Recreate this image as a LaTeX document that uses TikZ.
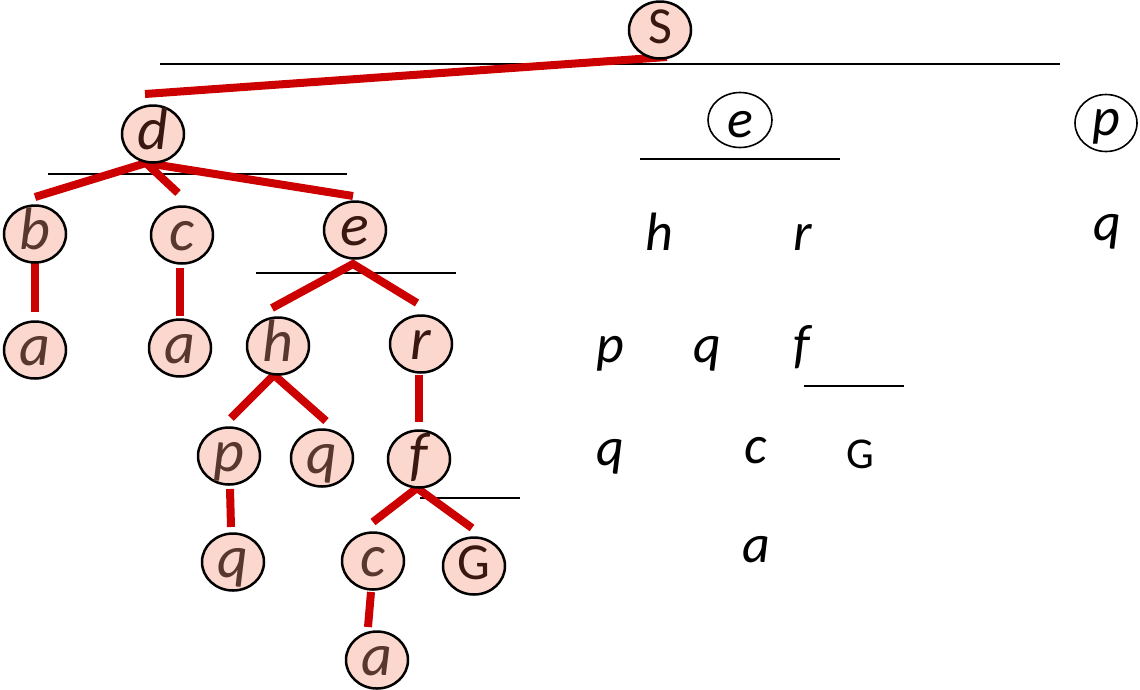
\documentclass[tikz,border=0pt]{standalone}
\usepackage{fontspec}
\setmainfont{Carlito}
\usetikzlibrary{shapes.geometric}
\definecolor{nodefill}{RGB}{251,215,205}
\definecolor{nodetext}{RGB}{88,56,46}
\definecolor{nodetextdark}{RGB}{58,24,18}
\definecolor{treered}{RGB}{204,0,0}
\tikzset{
  tnode/.style={ellipse, draw=black, line width=2.5pt, fill=nodefill, text=nodetext,
    minimum width=62pt, minimum height=57pt, inner sep=0pt,
    font=\fontsize{60}{60}\selectfont\itshape, text height=30pt, text depth=0pt},
  dk/.style={text=nodetextdark},
  tnodeup/.style={tnode, dk, font=\fontsize{52}{52}\selectfont, text height=27pt},
  branch/.style={draw=treered, line width=8pt},
  rulel/.style={draw=black, line width=2pt},
  plain/.style={anchor=base, inner sep=0pt, font=\fontsize{54}{54}\selectfont\itshape},
  plainup/.style={anchor=base, inner sep=0pt, font=\fontsize{44}{44}\selectfont},
  ring/.style={ellipse, draw=black, line width=1.6pt, inner sep=0pt,
    font=\fontsize{54}{54}\selectfont\itshape, text depth=0pt}
}
\begin{document}
\begin{tikzpicture}[x=1pt,y=-1pt]
\useasboundingbox (0,0) rectangle (1140,689);
% horizontal rules
\coordinate (L1a) at (160,64);  \coordinate (L1b) at (1060,64);
\coordinate (L2a) at (48,174);  \coordinate (L2b) at (347,174);
\coordinate (L3a) at (256,273); \coordinate (L3b) at (456,273);
\coordinate (L4a) at (420,498); \coordinate (L4b) at (520,498);
\coordinate (L5a) at (640,159); \coordinate (L5b) at (840,159);
\coordinate (L6a) at (804,386); \coordinate (L6b) at (904,386);
\foreach \i in {1,...,6} {\draw[rulel] (L\i a) -- (L\i b);}

% red branches
\coordinate (Sx) at (667,57);   \coordinate (dS) at (145,94);
\coordinate (dx) at (146,163);  \coordinate (db) at (35,197);
\coordinate (dc) at (178,193);  \coordinate (de) at (353,196);
\coordinate (bx) at (35,263);   \coordinate (ba) at (35,312);
\coordinate (cx) at (180,268);  \coordinate (ca) at (180,316);
\coordinate (ex) at (353,264);  \coordinate (eh) at (272,308);
\coordinate (er) at (417,303);
\coordinate (hx) at (274,375);  \coordinate (hp) at (231,418);
\coordinate (hq) at (326,421);
\coordinate (rx) at (419,375);  \coordinate (rf) at (419,422);
\coordinate (px) at (230,489);  \coordinate (pq) at (231,527);
\coordinate (fx) at (417,488);  \coordinate (fc) at (373,522);
\coordinate (fG) at (472,528);
\coordinate (c2x) at (371,592); \coordinate (c2a) at (368,627);
\draw[branch] (Sx) -- (dS);
\draw[branch] (db) -- (dx) -- (de);
\draw[branch] (dx) -- (dc);
\draw[branch] (bx) -- (ba);
\draw[branch] (cx) -- (ca);
\draw[branch] (eh) -- (ex) -- (er);
\draw[branch] (hp) -- (hx) -- (hq);
\draw[branch] (rx) -- (rf);
\draw[branch] (px) -- (pq);
\draw[branch] (fc) -- (fx) -- (fG);
\draw[branch] (c2x) -- (c2a);

% tree nodes
\node[tnodeup] (S) at (660,30) {S};
\node[tnode, dk] (d) at (153,134) {d};
\node[tnode] (b) at (35,234) {b};
\node[tnode] (c) at (182,235) {c};
\node[tnode, dk] (e) at (355,230) {e};
\node[tnode] (a1) at (35,350) {a};
\node[tnode] (a2) at (180,348) {a};
\node[tnode] (h) at (278,346) {h};
\node[tnode, dk] (r) at (421,344) {r};
\node[tnode] (p) at (229,456) {p};
\node[tnode] (q1) at (322,458) {q};
\node[tnode, dk] (f) at (419,459) {f};
\node[tnode] (q2) at (233,562) {q};
\node[tnode] (c2) at (373,561) {c};
\node[tnodeup] (G) at (474,566) {G};
\node[tnode] (a3) at (377,660) {a};

% right-hand side
\node[ring, minimum width=64pt, minimum height=55pt, text height=34pt] (Re) at (740,120) {e};
\node[ring, minimum width=62pt, minimum height=57pt, text height=24pt] (Rp) at (1106,123) {p};
\node[plain] (Rh) at (659,250) {h};
\node[plain] (Rr) at (803,250) {r};
\node[plain] (Rq) at (1107,240) {q};
\node[plain] (Rp2) at (610,362) {p};
\node[plain] (Rq2) at (707,362) {q};
\node[plain] (Rf) at (802,362) {f};
\node[plain] (Rq3) at (610,465) {q};
\node[plain] (Rc) at (756,463) {c};
\node[plainup] (RG) at (860,468) {G};
\node[plain] (Ra) at (756,562) {a};
\end{tikzpicture}
\end{document}
